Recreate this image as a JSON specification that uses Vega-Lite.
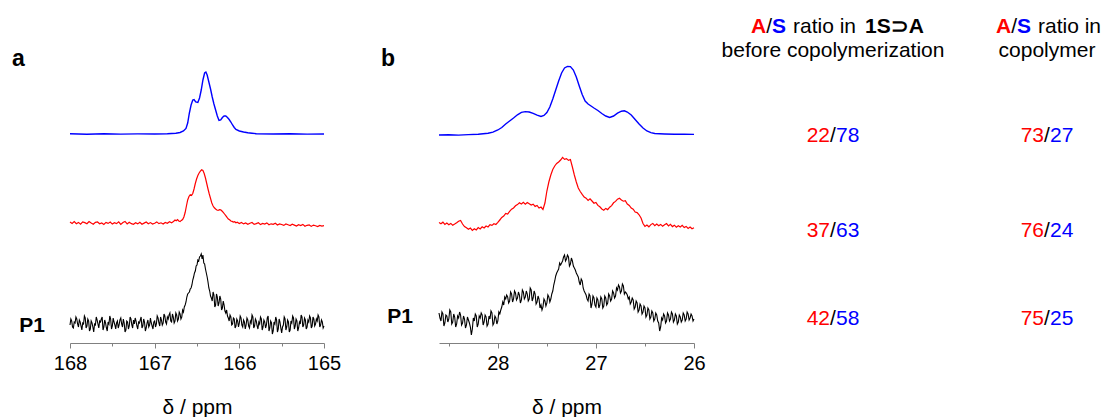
{
"$schema": "https://vega.github.io/schema/vega-lite/v6.json",
"background": "white",
"padding": {"left": 12, "top": 16, "right": 5, "bottom": 0},
"bounds": "flush",
"spacing": 115,
"config": {"view": {"stroke": null}, "font": "Liberation Sans", "text": {"font": "Liberation Sans"}},
"datasets": {
"a_S1": [{"ppm":168.00,"signal":209.2},{"ppm":167.80,"signal":208.8},{"ppm":167.60,"signal":209.3},{"ppm":167.40,"signal":208.9},{"ppm":167.20,"signal":209.1},{"ppm":167.00,"signal":209.0},{"ppm":166.85,"signal":209.3},{"ppm":166.75,"signal":209.8},{"ppm":166.70,"signal":210.5},{"ppm":166.66,"signal":212},{"ppm":166.63,"signal":214.5},{"ppm":166.61,"signal":220},{"ppm":166.59,"signal":230},{"ppm":166.57,"signal":238},{"ppm":166.55,"signal":243},{"ppm":166.535,"signal":243.5},{"ppm":166.515,"signal":241},{"ppm":166.49,"signal":240.5},{"ppm":166.47,"signal":245},{"ppm":166.45,"signal":253},{"ppm":166.43,"signal":263},{"ppm":166.41,"signal":270},{"ppm":166.395,"signal":271},{"ppm":166.38,"signal":268},{"ppm":166.36,"signal":261},{"ppm":166.34,"signal":254},{"ppm":166.32,"signal":246},{"ppm":166.30,"signal":239},{"ppm":166.28,"signal":233},{"ppm":166.26,"signal":227},{"ppm":166.24,"signal":222.5},{"ppm":166.22,"signal":223},{"ppm":166.20,"signal":225.5},{"ppm":166.18,"signal":227},{"ppm":166.16,"signal":227},{"ppm":166.14,"signal":225.5},{"ppm":166.12,"signal":223.5},{"ppm":166.10,"signal":221},{"ppm":166.08,"signal":218},{"ppm":166.06,"signal":215.5},{"ppm":166.04,"signal":213.5},{"ppm":166.00,"signal":212},{"ppm":165.95,"signal":211},{"ppm":165.90,"signal":210.3},{"ppm":165.85,"signal":209.8},{"ppm":165.80,"signal":209.3},{"ppm":165.60,"signal":209.0},{"ppm":165.40,"signal":209.2},{"ppm":165.20,"signal":208.9},{"ppm":165.00,"signal":209.0}],
"a_S2": [{"ppm":168.000,"signal":121.0},{"ppm":167.975,"signal":119.6},{"ppm":167.950,"signal":121.4},{"ppm":167.925,"signal":119.3},{"ppm":167.900,"signal":120.6},{"ppm":167.875,"signal":118.9},{"ppm":167.850,"signal":121.1},{"ppm":167.825,"signal":120.4},{"ppm":167.800,"signal":119.3},{"ppm":167.775,"signal":121.5},{"ppm":167.750,"signal":119.9},{"ppm":167.725,"signal":118.8},{"ppm":167.700,"signal":120.7},{"ppm":167.675,"signal":121.0},{"ppm":167.650,"signal":119.2},{"ppm":167.625,"signal":120.1},{"ppm":167.600,"signal":118.6},{"ppm":167.575,"signal":120.6},{"ppm":167.550,"signal":119.6},{"ppm":167.525,"signal":120.9},{"ppm":167.500,"signal":118.9},{"ppm":167.475,"signal":120.3},{"ppm":167.450,"signal":119.4},{"ppm":167.425,"signal":121.2},{"ppm":167.400,"signal":118.6},{"ppm":167.375,"signal":120.4},{"ppm":167.350,"signal":121.6},{"ppm":167.325,"signal":119.0},{"ppm":167.300,"signal":120.8},{"ppm":167.275,"signal":119.3},{"ppm":167.250,"signal":118.7},{"ppm":167.225,"signal":120.2},{"ppm":167.200,"signal":119.1},{"ppm":167.175,"signal":120.7},{"ppm":167.150,"signal":118.8},{"ppm":167.125,"signal":119.9},{"ppm":167.100,"signal":121.0},{"ppm":167.075,"signal":119.2},{"ppm":167.050,"signal":120.4},{"ppm":167.025,"signal":118.9},{"ppm":167.000,"signal":119.8},{"ppm":166.975,"signal":121.1},{"ppm":166.950,"signal":119.4},{"ppm":166.925,"signal":120.2},{"ppm":166.900,"signal":119.0},{"ppm":166.875,"signal":120.6},{"ppm":166.850,"signal":119.7},{"ppm":166.825,"signal":121.2},{"ppm":166.800,"signal":120.1},{"ppm":166.775,"signal":121.8},{"ppm":166.760,"signal":123.0},{"ppm":166.745,"signal":122.2},{"ppm":166.730,"signal":123.4},{"ppm":166.715,"signal":122.0},{"ppm":166.700,"signal":121.4},{"ppm":166.685,"signal":122.6},{"ppm":166.670,"signal":123.5},{"ppm":166.655,"signal":126.0},{"ppm":166.640,"signal":130.5},{"ppm":166.625,"signal":137.0},{"ppm":166.610,"signal":143.0},{"ppm":166.595,"signal":146.5},{"ppm":166.580,"signal":148.2},{"ppm":166.565,"signal":147.6},{"ppm":166.550,"signal":149.5},{"ppm":166.535,"signal":154.0},{"ppm":166.520,"signal":159.5},{"ppm":166.505,"signal":164.0},{"ppm":166.490,"signal":167.5},{"ppm":166.475,"signal":170.0},{"ppm":166.460,"signal":171.8},{"ppm":166.445,"signal":173.2},{"ppm":166.430,"signal":172.6},{"ppm":166.415,"signal":169.5},{"ppm":166.400,"signal":165.0},{"ppm":166.385,"signal":159.5},{"ppm":166.370,"signal":154.0},{"ppm":166.355,"signal":149.0},{"ppm":166.340,"signal":144.5},{"ppm":166.325,"signal":140.0},{"ppm":166.310,"signal":137.0},{"ppm":166.295,"signal":135.2},{"ppm":166.280,"signal":134.0},{"ppm":166.265,"signal":133.0},{"ppm":166.250,"signal":132.6},{"ppm":166.235,"signal":133.4},{"ppm":166.220,"signal":133.2},{"ppm":166.205,"signal":132.0},{"ppm":166.190,"signal":130.6},{"ppm":166.175,"signal":129.0},{"ppm":166.160,"signal":127.4},{"ppm":166.145,"signal":125.6},{"ppm":166.130,"signal":124.0},{"ppm":166.115,"signal":123.2},{"ppm":166.100,"signal":122.0},{"ppm":166.085,"signal":121.6},{"ppm":166.070,"signal":120.9},{"ppm":166.055,"signal":121.3},{"ppm":166.040,"signal":120.2},{"ppm":166.025,"signal":120.8},{"ppm":166.000,"signal":119.5},{"ppm":165.975,"signal":120.6},{"ppm":165.950,"signal":119.1},{"ppm":165.925,"signal":120.0},{"ppm":165.900,"signal":118.7},{"ppm":165.875,"signal":119.8},{"ppm":165.850,"signal":120.5},{"ppm":165.825,"signal":118.6},{"ppm":165.800,"signal":119.4},{"ppm":165.775,"signal":120.3},{"ppm":165.750,"signal":118.4},{"ppm":165.725,"signal":119.6},{"ppm":165.700,"signal":118.9},{"ppm":165.675,"signal":120.1},{"ppm":165.650,"signal":118.3},{"ppm":165.625,"signal":119.2},{"ppm":165.600,"signal":118.7},{"ppm":165.575,"signal":119.8},{"ppm":165.550,"signal":118.0},{"ppm":165.525,"signal":119.1},{"ppm":165.500,"signal":118.5},{"ppm":165.475,"signal":117.6},{"ppm":165.450,"signal":119.0},{"ppm":165.425,"signal":118.2},{"ppm":165.400,"signal":117.4},{"ppm":165.375,"signal":118.8},{"ppm":165.350,"signal":117.9},{"ppm":165.325,"signal":116.9},{"ppm":165.300,"signal":118.3},{"ppm":165.275,"signal":117.5},{"ppm":165.250,"signal":118.6},{"ppm":165.225,"signal":116.8},{"ppm":165.200,"signal":117.7},{"ppm":165.175,"signal":118.1},{"ppm":165.150,"signal":116.6},{"ppm":165.125,"signal":117.9},{"ppm":165.100,"signal":117.2},{"ppm":165.075,"signal":116.5},{"ppm":165.050,"signal":117.6},{"ppm":165.025,"signal":116.9},{"ppm":165.000,"signal":117.3}],
"a_P1": [{"ppm":168.00,"signal":18},{"ppm":167.99,"signal":24},{"ppm":167.98,"signal":22},{"ppm":167.97,"signal":16},{"ppm":167.96,"signal":15},{"ppm":167.95,"signal":21},{"ppm":167.94,"signal":20},{"ppm":167.93,"signal":26},{"ppm":167.92,"signal":24},{"ppm":167.91,"signal":19},{"ppm":167.90,"signal":16},{"ppm":167.89,"signal":23},{"ppm":167.88,"signal":21},{"ppm":167.87,"signal":17},{"ppm":167.86,"signal":13},{"ppm":167.85,"signal":20},{"ppm":167.84,"signal":19},{"ppm":167.83,"signal":27},{"ppm":167.82,"signal":25},{"ppm":167.81,"signal":15},{"ppm":167.80,"signal":17},{"ppm":167.79,"signal":24},{"ppm":167.78,"signal":22},{"ppm":167.77,"signal":12},{"ppm":167.76,"signal":14},{"ppm":167.75,"signal":22},{"ppm":167.74,"signal":20},{"ppm":167.73,"signal":16},{"ppm":167.72,"signal":11},{"ppm":167.71,"signal":19},{"ppm":167.70,"signal":18},{"ppm":167.69,"signal":26},{"ppm":167.68,"signal":23},{"ppm":167.67,"signal":19},{"ppm":167.66,"signal":15},{"ppm":167.65,"signal":22},{"ppm":167.64,"signal":21},{"ppm":167.63,"signal":24},{"ppm":167.62,"signal":26},{"ppm":167.61,"signal":13},{"ppm":167.60,"signal":16},{"ppm":167.59,"signal":23},{"ppm":167.58,"signal":20},{"ppm":167.57,"signal":15},{"ppm":167.56,"signal":12},{"ppm":167.55,"signal":21},{"ppm":167.54,"signal":19},{"ppm":167.53,"signal":27},{"ppm":167.52,"signal":24},{"ppm":167.51,"signal":14},{"ppm":167.50,"signal":17},{"ppm":167.49,"signal":25},{"ppm":167.48,"signal":21},{"ppm":167.47,"signal":18},{"ppm":167.46,"signal":14},{"ppm":167.45,"signal":20},{"ppm":167.44,"signal":22},{"ppm":167.43,"signal":15},{"ppm":167.42,"signal":18},{"ppm":167.41,"signal":23},{"ppm":167.40,"signal":25},{"ppm":167.39,"signal":19},{"ppm":167.38,"signal":16},{"ppm":167.37,"signal":24},{"ppm":167.36,"signal":20},{"ppm":167.35,"signal":11},{"ppm":167.34,"signal":13},{"ppm":167.33,"signal":22},{"ppm":167.32,"signal":21},{"ppm":167.31,"signal":14},{"ppm":167.30,"signal":17},{"ppm":167.29,"signal":26},{"ppm":167.28,"signal":24},{"ppm":167.27,"signal":18},{"ppm":167.26,"signal":15},{"ppm":167.25,"signal":23},{"ppm":167.24,"signal":19},{"ppm":167.23,"signal":25},{"ppm":167.22,"signal":22},{"ppm":167.21,"signal":17},{"ppm":167.20,"signal":14},{"ppm":167.19,"signal":21},{"ppm":167.18,"signal":20},{"ppm":167.17,"signal":23},{"ppm":167.16,"signal":26},{"ppm":167.15,"signal":15},{"ppm":167.14,"signal":17},{"ppm":167.13,"signal":24},{"ppm":167.12,"signal":21},{"ppm":167.11,"signal":12},{"ppm":167.10,"signal":15},{"ppm":167.09,"signal":20},{"ppm":167.08,"signal":23},{"ppm":167.07,"signal":16},{"ppm":167.06,"signal":18},{"ppm":167.05,"signal":25},{"ppm":167.04,"signal":20},{"ppm":167.03,"signal":17},{"ppm":167.02,"signal":14},{"ppm":167.01,"signal":21},{"ppm":167.00,"signal":22},{"ppm":166.99,"signal":16},{"ppm":166.98,"signal":19},{"ppm":166.97,"signal":27},{"ppm":166.96,"signal":25},{"ppm":166.95,"signal":20},{"ppm":166.94,"signal":17},{"ppm":166.93,"signal":26},{"ppm":166.92,"signal":23},{"ppm":166.91,"signal":18},{"ppm":166.90,"signal":20},{"ppm":166.89,"signal":29},{"ppm":166.88,"signal":27},{"ppm":166.87,"signal":21},{"ppm":166.86,"signal":19},{"ppm":166.85,"signal":26},{"ppm":166.84,"signal":24},{"ppm":166.83,"signal":28},{"ppm":166.82,"signal":30},{"ppm":166.81,"signal":22},{"ppm":166.80,"signal":21},{"ppm":166.79,"signal":29},{"ppm":166.78,"signal":26},{"ppm":166.77,"signal":20},{"ppm":166.76,"signal":22},{"ppm":166.75,"signal":30},{"ppm":166.74,"signal":28},{"ppm":166.73,"signal":22},{"ppm":166.72,"signal":24},{"ppm":166.71,"signal":31},{"ppm":166.70,"signal":29},{"ppm":166.69,"signal":24},{"ppm":166.68,"signal":26},{"ppm":166.67,"signal":33},{"ppm":166.66,"signal":31},{"ppm":166.65,"signal":36},{"ppm":166.64,"signal":38},{"ppm":166.63,"signal":41},{"ppm":166.62,"signal":46},{"ppm":166.61,"signal":49},{"ppm":166.60,"signal":50},{"ppm":166.59,"signal":51},{"ppm":166.58,"signal":54},{"ppm":166.57,"signal":55},{"ppm":166.56,"signal":58},{"ppm":166.55,"signal":63},{"ppm":166.54,"signal":66},{"ppm":166.53,"signal":70},{"ppm":166.52,"signal":72},{"ppm":166.51,"signal":77},{"ppm":166.50,"signal":78},{"ppm":166.49,"signal":83},{"ppm":166.48,"signal":82},{"ppm":166.47,"signal":86},{"ppm":166.46,"signal":87},{"ppm":166.45,"signal":89},{"ppm":166.44,"signal":84},{"ppm":166.43,"signal":88},{"ppm":166.42,"signal":80},{"ppm":166.41,"signal":79},{"ppm":166.40,"signal":74},{"ppm":166.39,"signal":70},{"ppm":166.38,"signal":66},{"ppm":166.37,"signal":61},{"ppm":166.36,"signal":55},{"ppm":166.35,"signal":52},{"ppm":166.34,"signal":47},{"ppm":166.33,"signal":45},{"ppm":166.32,"signal":42},{"ppm":166.31,"signal":51},{"ppm":166.30,"signal":48},{"ppm":166.29,"signal":36},{"ppm":166.28,"signal":38},{"ppm":166.27,"signal":49},{"ppm":166.26,"signal":46},{"ppm":166.25,"signal":37},{"ppm":166.24,"signal":40},{"ppm":166.23,"signal":47},{"ppm":166.22,"signal":44},{"ppm":166.21,"signal":33},{"ppm":166.20,"signal":35},{"ppm":166.19,"signal":42},{"ppm":166.18,"signal":38},{"ppm":166.17,"signal":32},{"ppm":166.16,"signal":30},{"ppm":166.15,"signal":33},{"ppm":166.14,"signal":27},{"ppm":166.13,"signal":25},{"ppm":166.12,"signal":22},{"ppm":166.11,"signal":28},{"ppm":166.10,"signal":26},{"ppm":166.09,"signal":18},{"ppm":166.08,"signal":19},{"ppm":166.07,"signal":25},{"ppm":166.06,"signal":24},{"ppm":166.05,"signal":15},{"ppm":166.04,"signal":17},{"ppm":166.03,"signal":24},{"ppm":166.02,"signal":22},{"ppm":166.01,"signal":16},{"ppm":166.00,"signal":20},{"ppm":165.99,"signal":27},{"ppm":165.98,"signal":25},{"ppm":165.97,"signal":18},{"ppm":165.96,"signal":16},{"ppm":165.95,"signal":23},{"ppm":165.94,"signal":21},{"ppm":165.93,"signal":14},{"ppm":165.92,"signal":18},{"ppm":165.91,"signal":25},{"ppm":165.90,"signal":23},{"ppm":165.89,"signal":17},{"ppm":165.88,"signal":15},{"ppm":165.87,"signal":22},{"ppm":165.86,"signal":20},{"ppm":165.85,"signal":28},{"ppm":165.84,"signal":26},{"ppm":165.83,"signal":15},{"ppm":165.82,"signal":17},{"ppm":165.81,"signal":24},{"ppm":165.80,"signal":22},{"ppm":165.79,"signal":17},{"ppm":165.78,"signal":14},{"ppm":165.77,"signal":21},{"ppm":165.76,"signal":19},{"ppm":165.75,"signal":26},{"ppm":165.74,"signal":24},{"ppm":165.73,"signal":13},{"ppm":165.72,"signal":16},{"ppm":165.71,"signal":23},{"ppm":165.70,"signal":21},{"ppm":165.69,"signal":15},{"ppm":165.68,"signal":18},{"ppm":165.67,"signal":25},{"ppm":165.66,"signal":27},{"ppm":165.65,"signal":12},{"ppm":165.64,"signal":15},{"ppm":165.63,"signal":22},{"ppm":165.62,"signal":20},{"ppm":165.61,"signal":9},{"ppm":165.60,"signal":12},{"ppm":165.59,"signal":21},{"ppm":165.58,"signal":19},{"ppm":165.57,"signal":26},{"ppm":165.56,"signal":23},{"ppm":165.55,"signal":11},{"ppm":165.54,"signal":14},{"ppm":165.53,"signal":24},{"ppm":165.52,"signal":21},{"ppm":165.51,"signal":15},{"ppm":165.50,"signal":10},{"ppm":165.49,"signal":16},{"ppm":165.48,"signal":18},{"ppm":165.47,"signal":26},{"ppm":165.46,"signal":24},{"ppm":165.45,"signal":13},{"ppm":165.44,"signal":16},{"ppm":165.43,"signal":23},{"ppm":165.42,"signal":21},{"ppm":165.41,"signal":11},{"ppm":165.40,"signal":13},{"ppm":165.39,"signal":22},{"ppm":165.38,"signal":20},{"ppm":165.37,"signal":27},{"ppm":165.36,"signal":25},{"ppm":165.35,"signal":14},{"ppm":165.34,"signal":17},{"ppm":165.33,"signal":24},{"ppm":165.32,"signal":22},{"ppm":165.31,"signal":12},{"ppm":165.30,"signal":15},{"ppm":165.29,"signal":21},{"ppm":165.28,"signal":19},{"ppm":165.27,"signal":28},{"ppm":165.26,"signal":26},{"ppm":165.25,"signal":16},{"ppm":165.24,"signal":18},{"ppm":165.23,"signal":25},{"ppm":165.22,"signal":23},{"ppm":165.21,"signal":14},{"ppm":165.20,"signal":16},{"ppm":165.19,"signal":23},{"ppm":165.18,"signal":21},{"ppm":165.17,"signal":27},{"ppm":165.16,"signal":25},{"ppm":165.15,"signal":15},{"ppm":165.14,"signal":17},{"ppm":165.13,"signal":26},{"ppm":165.12,"signal":24},{"ppm":165.11,"signal":17},{"ppm":165.10,"signal":19},{"ppm":165.09,"signal":24},{"ppm":165.08,"signal":22},{"ppm":165.07,"signal":28},{"ppm":165.06,"signal":26},{"ppm":165.05,"signal":16},{"ppm":165.04,"signal":18},{"ppm":165.03,"signal":23},{"ppm":165.02,"signal":21},{"ppm":165.01,"signal":15},{"ppm":165.00,"signal":17}],
"b_S1": [{"ppm":28.60,"signal":208.0},{"ppm":28.50,"signal":208.3},{"ppm":28.40,"signal":207.9},{"ppm":28.30,"signal":208.4},{"ppm":28.20,"signal":208.8},{"ppm":28.10,"signal":209.7},{"ppm":28.05,"signal":210.8},{"ppm":28.00,"signal":213.0},{"ppm":27.96,"signal":215.5},{"ppm":27.92,"signal":219.0},{"ppm":27.88,"signal":222.0},{"ppm":27.84,"signal":225.0},{"ppm":27.80,"signal":228.2},{"ppm":27.76,"signal":230.6},{"ppm":27.72,"signal":231.4},{"ppm":27.68,"signal":231.0},{"ppm":27.64,"signal":229.6},{"ppm":27.60,"signal":227.8},{"ppm":27.56,"signal":226.6},{"ppm":27.53,"signal":227.5},{"ppm":27.50,"signal":230.5},{"ppm":27.47,"signal":236.0},{"ppm":27.44,"signal":244.0},{"ppm":27.41,"signal":253.0},{"ppm":27.38,"signal":262.0},{"ppm":27.35,"signal":270.0},{"ppm":27.32,"signal":275.0},{"ppm":27.29,"signal":276.6},{"ppm":27.26,"signal":276.4},{"ppm":27.23,"signal":273.0},{"ppm":27.20,"signal":266.0},{"ppm":27.17,"signal":257.0},{"ppm":27.14,"signal":248.5},{"ppm":27.11,"signal":242.0},{"ppm":27.08,"signal":239.0},{"ppm":27.05,"signal":237.0},{"ppm":27.02,"signal":235.0},{"ppm":26.98,"signal":232.5},{"ppm":26.94,"signal":229.5},{"ppm":26.90,"signal":227.0},{"ppm":26.86,"signal":225.6},{"ppm":26.82,"signal":227.0},{"ppm":26.78,"signal":229.8},{"ppm":26.74,"signal":231.8},{"ppm":26.71,"signal":232.2},{"ppm":26.68,"signal":231.0},{"ppm":26.64,"signal":228.0},{"ppm":26.60,"signal":223.5},{"ppm":26.56,"signal":219.0},{"ppm":26.52,"signal":215.0},{"ppm":26.48,"signal":212.0},{"ppm":26.44,"signal":210.3},{"ppm":26.40,"signal":209.5},{"ppm":26.30,"signal":209.0},{"ppm":26.20,"signal":208.7},{"ppm":26.10,"signal":208.9},{"ppm":26.00,"signal":208.6}],
"b_S2": [{"ppm":28.60,"signal":120.5},{"ppm":28.58,"signal":119.2},{"ppm":28.56,"signal":120.8},{"ppm":28.54,"signal":118.6},{"ppm":28.52,"signal":119.9},{"ppm":28.50,"signal":118.3},{"ppm":28.48,"signal":119.6},{"ppm":28.46,"signal":117.8},{"ppm":28.44,"signal":118.9},{"ppm":28.42,"signal":120.2},{"ppm":28.40,"signal":121.8},{"ppm":28.38,"signal":122.6},{"ppm":28.36,"signal":119.0},{"ppm":28.34,"signal":116.5},{"ppm":28.32,"signal":115.2},{"ppm":28.30,"signal":113.8},{"ppm":28.28,"signal":115.0},{"ppm":28.26,"signal":112.6},{"ppm":28.24,"signal":114.3},{"ppm":28.22,"signal":113.0},{"ppm":28.20,"signal":115.4},{"ppm":28.18,"signal":114.1},{"ppm":28.16,"signal":116.2},{"ppm":28.14,"signal":115.0},{"ppm":28.12,"signal":117.0},{"ppm":28.10,"signal":116.0},{"ppm":28.08,"signal":118.4},{"ppm":28.06,"signal":117.6},{"ppm":28.04,"signal":119.2},{"ppm":28.02,"signal":118.5},{"ppm":28.00,"signal":120.6},{"ppm":27.98,"signal":123.0},{"ppm":27.96,"signal":125.5},{"ppm":27.94,"signal":127.0},{"ppm":27.92,"signal":129.6},{"ppm":27.90,"signal":129.0},{"ppm":27.88,"signal":131.6},{"ppm":27.86,"signal":133.8},{"ppm":27.84,"signal":135.0},{"ppm":27.82,"signal":137.2},{"ppm":27.80,"signal":138.4},{"ppm":27.78,"signal":140.2},{"ppm":27.76,"signal":139.0},{"ppm":27.74,"signal":140.6},{"ppm":27.72,"signal":138.8},{"ppm":27.70,"signal":140.4},{"ppm":27.68,"signal":139.2},{"ppm":27.66,"signal":138.0},{"ppm":27.64,"signal":138.8},{"ppm":27.62,"signal":136.6},{"ppm":27.60,"signal":137.6},{"ppm":27.58,"signal":135.0},{"ppm":27.56,"signal":136.0},{"ppm":27.54,"signal":133.6},{"ppm":27.52,"signal":140.0},{"ppm":27.50,"signal":152.0},{"ppm":27.48,"signal":161.0},{"ppm":27.46,"signal":168.0},{"ppm":27.44,"signal":173.5},{"ppm":27.42,"signal":177.0},{"ppm":27.40,"signal":179.5},{"ppm":27.38,"signal":181.0},{"ppm":27.36,"signal":183.0},{"ppm":27.34,"signal":185.6},{"ppm":27.32,"signal":183.6},{"ppm":27.30,"signal":184.4},{"ppm":27.28,"signal":182.6},{"ppm":27.26,"signal":183.5},{"ppm":27.24,"signal":176.0},{"ppm":27.22,"signal":168.0},{"ppm":27.20,"signal":161.0},{"ppm":27.18,"signal":155.0},{"ppm":27.16,"signal":151.5},{"ppm":27.14,"signal":148.6},{"ppm":27.12,"signal":146.0},{"ppm":27.10,"signal":144.8},{"ppm":27.08,"signal":142.6},{"ppm":27.06,"signal":144.2},{"ppm":27.04,"signal":142.0},{"ppm":27.02,"signal":139.8},{"ppm":27.00,"signal":140.6},{"ppm":26.98,"signal":137.6},{"ppm":26.96,"signal":136.2},{"ppm":26.94,"signal":134.0},{"ppm":26.92,"signal":132.8},{"ppm":26.90,"signal":134.6},{"ppm":26.88,"signal":133.4},{"ppm":26.86,"signal":135.8},{"ppm":26.84,"signal":137.4},{"ppm":26.82,"signal":140.2},{"ppm":26.80,"signal":141.6},{"ppm":26.78,"signal":143.8},{"ppm":26.76,"signal":144.8},{"ppm":26.74,"signal":143.0},{"ppm":26.72,"signal":141.8},{"ppm":26.70,"signal":142.4},{"ppm":26.68,"signal":139.0},{"ppm":26.66,"signal":137.6},{"ppm":26.64,"signal":135.0},{"ppm":26.62,"signal":133.8},{"ppm":26.60,"signal":131.0},{"ppm":26.58,"signal":130.4},{"ppm":26.56,"signal":128.2},{"ppm":26.54,"signal":125.0},{"ppm":26.52,"signal":119.5},{"ppm":26.50,"signal":116.6},{"ppm":26.48,"signal":118.0},{"ppm":26.46,"signal":116.2},{"ppm":26.44,"signal":118.4},{"ppm":26.42,"signal":119.6},{"ppm":26.40,"signal":117.4},{"ppm":26.38,"signal":119.0},{"ppm":26.36,"signal":117.2},{"ppm":26.34,"signal":118.6},{"ppm":26.32,"signal":116.8},{"ppm":26.30,"signal":118.2},{"ppm":26.28,"signal":119.4},{"ppm":26.26,"signal":117.0},{"ppm":26.24,"signal":118.6},{"ppm":26.22,"signal":116.4},{"ppm":26.20,"signal":117.8},{"ppm":26.18,"signal":115.8},{"ppm":26.16,"signal":117.2},{"ppm":26.14,"signal":116.0},{"ppm":26.12,"signal":117.6},{"ppm":26.10,"signal":115.4},{"ppm":26.08,"signal":116.6},{"ppm":26.06,"signal":114.6},{"ppm":26.04,"signal":116.0},{"ppm":26.02,"signal":114.2},{"ppm":26.00,"signal":115.2}],
"b_P1": [{"ppm":28.60,"signal":30},{"ppm":28.59,"signal":25},{"ppm":28.58,"signal":22},{"ppm":28.57,"signal":31},{"ppm":28.56,"signal":29},{"ppm":28.55,"signal":17},{"ppm":28.54,"signal":20},{"ppm":28.53,"signal":28},{"ppm":28.52,"signal":27},{"ppm":28.51,"signal":21},{"ppm":28.50,"signal":24},{"ppm":28.49,"signal":33},{"ppm":28.48,"signal":31},{"ppm":28.47,"signal":19},{"ppm":28.46,"signal":21},{"ppm":28.45,"signal":29},{"ppm":28.44,"signal":26},{"ppm":28.43,"signal":16},{"ppm":28.42,"signal":19},{"ppm":28.41,"signal":27},{"ppm":28.40,"signal":25},{"ppm":28.39,"signal":31},{"ppm":28.38,"signal":28},{"ppm":28.37,"signal":18},{"ppm":28.36,"signal":20},{"ppm":28.35,"signal":27},{"ppm":28.34,"signal":24},{"ppm":28.33,"signal":15},{"ppm":28.32,"signal":18},{"ppm":28.31,"signal":26},{"ppm":28.30,"signal":23},{"ppm":28.29,"signal":20},{"ppm":28.28,"signal":16},{"ppm":28.27,"signal":8},{"ppm":28.26,"signal":14},{"ppm":28.25,"signal":25},{"ppm":28.24,"signal":22},{"ppm":28.23,"signal":29},{"ppm":28.22,"signal":27},{"ppm":28.21,"signal":16},{"ppm":28.20,"signal":19},{"ppm":28.19,"signal":27},{"ppm":28.18,"signal":25},{"ppm":28.17,"signal":30},{"ppm":28.16,"signal":28},{"ppm":28.15,"signal":18},{"ppm":28.14,"signal":21},{"ppm":28.13,"signal":28},{"ppm":28.12,"signal":26},{"ppm":28.11,"signal":17},{"ppm":28.10,"signal":19},{"ppm":28.09,"signal":27},{"ppm":28.08,"signal":24},{"ppm":28.07,"signal":32},{"ppm":28.06,"signal":30},{"ppm":28.05,"signal":18},{"ppm":28.04,"signal":20},{"ppm":28.03,"signal":27},{"ppm":28.02,"signal":25},{"ppm":28.01,"signal":19},{"ppm":28.00,"signal":22},{"ppm":27.99,"signal":31},{"ppm":27.98,"signal":29},{"ppm":27.97,"signal":33},{"ppm":27.96,"signal":36},{"ppm":27.95,"signal":41},{"ppm":27.94,"signal":38},{"ppm":27.93,"signal":46},{"ppm":27.92,"signal":44},{"ppm":27.91,"signal":48},{"ppm":27.90,"signal":46},{"ppm":27.89,"signal":40},{"ppm":27.88,"signal":42},{"ppm":27.87,"signal":51},{"ppm":27.86,"signal":49},{"ppm":27.85,"signal":41},{"ppm":27.84,"signal":44},{"ppm":27.83,"signal":52},{"ppm":27.82,"signal":50},{"ppm":27.81,"signal":43},{"ppm":27.80,"signal":45},{"ppm":27.79,"signal":51},{"ppm":27.78,"signal":48},{"ppm":27.77,"signal":40},{"ppm":27.76,"signal":43},{"ppm":27.75,"signal":53},{"ppm":27.74,"signal":51},{"ppm":27.73,"signal":44},{"ppm":27.72,"signal":46},{"ppm":27.71,"signal":52},{"ppm":27.70,"signal":49},{"ppm":27.69,"signal":42},{"ppm":27.68,"signal":44},{"ppm":27.67,"signal":55},{"ppm":27.66,"signal":53},{"ppm":27.65,"signal":42},{"ppm":27.64,"signal":45},{"ppm":27.63,"signal":52},{"ppm":27.62,"signal":49},{"ppm":27.61,"signal":39},{"ppm":27.60,"signal":41},{"ppm":27.59,"signal":47},{"ppm":27.58,"signal":44},{"ppm":27.57,"signal":35},{"ppm":27.56,"signal":38},{"ppm":27.55,"signal":33},{"ppm":27.54,"signal":36},{"ppm":27.53,"signal":44},{"ppm":27.52,"signal":42},{"ppm":27.51,"signal":37},{"ppm":27.50,"signal":40},{"ppm":27.49,"signal":48},{"ppm":27.48,"signal":46},{"ppm":27.47,"signal":41},{"ppm":27.46,"signal":44},{"ppm":27.45,"signal":49},{"ppm":27.44,"signal":52},{"ppm":27.43,"signal":58},{"ppm":27.42,"signal":62},{"ppm":27.41,"signal":67},{"ppm":27.40,"signal":70},{"ppm":27.39,"signal":72},{"ppm":27.38,"signal":74},{"ppm":27.37,"signal":80},{"ppm":27.36,"signal":78},{"ppm":27.35,"signal":80},{"ppm":27.34,"signal":82},{"ppm":27.33,"signal":86},{"ppm":27.32,"signal":88},{"ppm":27.31,"signal":82},{"ppm":27.30,"signal":84},{"ppm":27.29,"signal":88},{"ppm":27.28,"signal":86},{"ppm":27.27,"signal":77},{"ppm":27.26,"signal":79},{"ppm":27.25,"signal":85},{"ppm":27.24,"signal":82},{"ppm":27.23,"signal":77},{"ppm":27.22,"signal":75},{"ppm":27.21,"signal":73},{"ppm":27.20,"signal":70},{"ppm":27.19,"signal":68},{"ppm":27.18,"signal":66},{"ppm":27.17,"signal":61},{"ppm":27.16,"signal":58},{"ppm":27.15,"signal":64},{"ppm":27.14,"signal":62},{"ppm":27.13,"signal":55},{"ppm":27.12,"signal":52},{"ppm":27.11,"signal":50},{"ppm":27.10,"signal":48},{"ppm":27.09,"signal":44},{"ppm":27.08,"signal":42},{"ppm":27.07,"signal":49},{"ppm":27.06,"signal":47},{"ppm":27.05,"signal":35},{"ppm":27.04,"signal":39},{"ppm":27.03,"signal":47},{"ppm":27.02,"signal":45},{"ppm":27.01,"signal":38},{"ppm":27.00,"signal":36},{"ppm":26.99,"signal":45},{"ppm":26.98,"signal":43},{"ppm":26.97,"signal":35},{"ppm":26.96,"signal":38},{"ppm":26.95,"signal":46},{"ppm":26.94,"signal":44},{"ppm":26.93,"signal":35},{"ppm":26.92,"signal":37},{"ppm":26.91,"signal":47},{"ppm":26.90,"signal":45},{"ppm":26.89,"signal":38},{"ppm":26.88,"signal":40},{"ppm":26.87,"signal":49},{"ppm":26.86,"signal":47},{"ppm":26.85,"signal":42},{"ppm":26.84,"signal":44},{"ppm":26.83,"signal":52},{"ppm":26.82,"signal":50},{"ppm":26.81,"signal":45},{"ppm":26.80,"signal":47},{"ppm":26.79,"signal":55},{"ppm":26.78,"signal":53},{"ppm":26.77,"signal":58},{"ppm":26.76,"signal":56},{"ppm":26.75,"signal":50},{"ppm":26.74,"signal":52},{"ppm":26.73,"signal":59},{"ppm":26.72,"signal":57},{"ppm":26.71,"signal":49},{"ppm":26.70,"signal":51},{"ppm":26.69,"signal":50},{"ppm":26.68,"signal":48},{"ppm":26.67,"signal":44},{"ppm":26.66,"signal":46},{"ppm":26.65,"signal":39},{"ppm":26.64,"signal":41},{"ppm":26.63,"signal":45},{"ppm":26.62,"signal":43},{"ppm":26.61,"signal":34},{"ppm":26.60,"signal":36},{"ppm":26.59,"signal":42},{"ppm":26.58,"signal":40},{"ppm":26.57,"signal":31},{"ppm":26.56,"signal":33},{"ppm":26.55,"signal":39},{"ppm":26.54,"signal":37},{"ppm":26.53,"signal":29},{"ppm":26.52,"signal":31},{"ppm":26.51,"signal":37},{"ppm":26.50,"signal":35},{"ppm":26.49,"signal":26},{"ppm":26.48,"signal":28},{"ppm":26.47,"signal":35},{"ppm":26.46,"signal":33},{"ppm":26.45,"signal":24},{"ppm":26.44,"signal":26},{"ppm":26.43,"signal":32},{"ppm":26.42,"signal":30},{"ppm":26.41,"signal":22},{"ppm":26.40,"signal":24},{"ppm":26.39,"signal":30},{"ppm":26.38,"signal":28},{"ppm":26.37,"signal":22},{"ppm":26.36,"signal":20},{"ppm":26.35,"signal":12},{"ppm":26.34,"signal":16},{"ppm":26.33,"signal":25},{"ppm":26.32,"signal":23},{"ppm":26.31,"signal":29},{"ppm":26.30,"signal":27},{"ppm":26.29,"signal":20},{"ppm":26.28,"signal":22},{"ppm":26.27,"signal":30},{"ppm":26.26,"signal":28},{"ppm":26.25,"signal":22},{"ppm":26.24,"signal":24},{"ppm":26.23,"signal":31},{"ppm":26.22,"signal":29},{"ppm":26.21,"signal":21},{"ppm":26.20,"signal":23},{"ppm":26.19,"signal":29},{"ppm":26.18,"signal":27},{"ppm":26.17,"signal":19},{"ppm":26.16,"signal":21},{"ppm":26.15,"signal":28},{"ppm":26.14,"signal":26},{"ppm":26.13,"signal":21},{"ppm":26.12,"signal":23},{"ppm":26.11,"signal":30},{"ppm":26.10,"signal":28},{"ppm":26.09,"signal":22},{"ppm":26.08,"signal":24},{"ppm":26.07,"signal":31},{"ppm":26.06,"signal":29},{"ppm":26.05,"signal":23},{"ppm":26.04,"signal":25},{"ppm":26.03,"signal":29},{"ppm":26.02,"signal":27},{"ppm":26.01,"signal":22},{"ppm":26.00,"signal":24}],
"ratios": [{"col":"before","sample":"S1","A":22,"S":78},{"col":"before","sample":"S2","A":37,"S":63},{"col":"before","sample":"P1","A":42,"S":58},{"col":"copolymer","sample":"S1","A":73,"S":27},{"col":"copolymer","sample":"S2","A":76,"S":24},{"col":"copolymer","sample":"P1","A":75,"S":25}]
},
"hconcat": [
{
"width": 254, "height": 300,
"layer": [
{"data": {"name": "a_S1"}, "mark": {"type": "line", "color": "#0000ff", "strokeWidth": 1.4},
 "encoding": {
  "x": {"field": "ppm", "type": "quantitative", "scale": {"domain": [165, 168], "reverse": true, "nice": false, "zero": false},
   "axis": {"values": [165, 165.5, 166, 166.5, 167, 167.5, 168], "labelExpr": "datum.value % 1 === 0 ? format(datum.value, 'd') : ''", "tickSize": {"condition": {"test": "datum.value % 1 !== 0", "value": 3}, "value": 5}, "grid": false, "domainColor": "#808080", "tickColor": "#808080", "labelColor": "#000000", "labelFont": "Liberation Sans", "labelFontSize": 20, "labelPadding": 5, "labelFlush": false, "labelOverlap": false, "title": "δ / ppm", "titleFont": "Liberation Sans", "titleFontSize": 21, "titleFontWeight": "normal", "titleColor": "#000000", "titlePadding": 23}},
  "y": {"field": "signal", "type": "quantitative", "scale": {"domain": [0, 300], "nice": false, "zero": false}, "axis": null}}},
{"data": {"name": "a_S2"}, "mark": {"type": "line", "color": "#ff0000", "strokeWidth": 1.2},
 "encoding": {"x": {"field": "ppm", "type": "quantitative"}, "y": {"field": "signal", "type": "quantitative", "axis": null}}},
{"data": {"name": "a_P1"}, "mark": {"type": "line", "color": "#000000", "strokeWidth": 1.1},
 "encoding": {"x": {"field": "ppm", "type": "quantitative"}, "y": {"field": "signal", "type": "quantitative", "axis": null}}},
{"data": {"values": [{"label": "a"}]}, "mark": {"type": "text", "fontWeight": "bold", "fontSize": 23, "align": "left", "baseline": "alphabetic", "dx": -58, "color": "#000000"},
 "encoding": {"x": {"datum": 168, "type": "quantitative"}, "y": {"datum": 277, "type": "quantitative", "axis": null}, "text": {"field": "label"}}},
{"data": {"values": [{"label": "P1"}]}, "mark": {"type": "text", "fontWeight": "bold", "fontSize": 21, "align": "right", "baseline": "alphabetic", "dx": -25, "color": "#000000"},
 "encoding": {"x": {"datum": 168, "type": "quantitative"}, "y": {"datum": 11.5, "type": "quantitative", "axis": null}, "text": {"field": "label"}}}
]
},
{
"width": 255, "height": 300,
"layer": [
{"data": {"name": "b_S1"}, "mark": {"type": "line", "color": "#0000ff", "strokeWidth": 1.4},
 "encoding": {
  "x": {"field": "ppm", "type": "quantitative", "scale": {"domain": [26, 28.6], "reverse": true, "nice": false, "zero": false},
   "axis": {"values": [26, 26.5, 27, 27.5, 28, 28.5], "labelExpr": "datum.value % 1 === 0 ? format(datum.value, 'd') : ''", "tickSize": {"condition": {"test": "datum.value % 1 !== 0", "value": 3}, "value": 5}, "grid": false, "domainColor": "#808080", "tickColor": "#808080", "labelColor": "#000000", "labelFont": "Liberation Sans", "labelFontSize": 20, "labelPadding": 5, "labelFlush": false, "labelOverlap": false, "title": "δ / ppm", "titleFont": "Liberation Sans", "titleFontSize": 21, "titleFontWeight": "normal", "titleColor": "#000000", "titlePadding": 23}},
  "y": {"field": "signal", "type": "quantitative", "scale": {"domain": [0, 300], "nice": false, "zero": false}, "axis": null}}},
{"data": {"name": "b_S2"}, "mark": {"type": "line", "color": "#ff0000", "strokeWidth": 1.2},
 "encoding": {"x": {"field": "ppm", "type": "quantitative"}, "y": {"field": "signal", "type": "quantitative", "axis": null}}},
{"data": {"name": "b_P1"}, "mark": {"type": "line", "color": "#000000", "strokeWidth": 1.1},
 "encoding": {"x": {"field": "ppm", "type": "quantitative"}, "y": {"field": "signal", "type": "quantitative", "axis": null}}},
{"data": {"values": [{"label": "b"}]}, "mark": {"type": "text", "fontWeight": "bold", "fontSize": 23, "align": "left", "baseline": "alphabetic", "dx": -58, "color": "#000000"},
 "encoding": {"x": {"datum": 28.6, "type": "quantitative"}, "y": {"datum": 277, "type": "quantitative", "axis": null}, "text": {"field": "label"}}},
{"data": {"values": [{"label": "P1"}]}, "mark": {"type": "text", "fontWeight": "bold", "fontSize": 21, "align": "right", "baseline": "alphabetic", "dx": -26, "color": "#000000"},
 "encoding": {"x": {"datum": 28.6, "type": "quantitative"}, "y": {"datum": 19.7, "type": "quantitative", "axis": null}, "text": {"field": "label"}}}
]
},
{
"width": 262, "height": 300,
"encoding": {"x": {"field": "col", "type": "nominal", "scale": {"type": "point", "padding": 0.1121, "domain": ["before", "copolymer"]}, "axis": null}},
"layer": [
{"data": {"name": "ratios"}, "transform": [{"filter": "datum.sample === 'S1'"}],
 "encoding": {"y": {"datum": 201.3, "type": "quantitative", "scale": {"domain": [0, 300], "nice": false, "zero": false}, "axis": null}},
 "layer": [
  {"mark": {"type": "text", "align": "right", "dx": -3, "fontSize": 21, "color": "#ff0000", "baseline": "alphabetic"}, "encoding": {"text": {"field": "A"}}},
  {"mark": {"type": "text", "align": "center", "fontSize": 21, "color": "#000000", "baseline": "alphabetic", "text": "/"}},
  {"mark": {"type": "text", "align": "left", "dx": 3, "fontSize": 21, "color": "#0000ff", "baseline": "alphabetic"}, "encoding": {"text": {"field": "S"}}}
 ]},
{"data": {"name": "ratios"}, "transform": [{"filter": "datum.sample === 'S2'"}],
 "encoding": {"y": {"datum": 106.3, "type": "quantitative", "axis": null}},
 "layer": [
  {"mark": {"type": "text", "align": "right", "dx": -3, "fontSize": 21, "color": "#ff0000", "baseline": "alphabetic"}, "encoding": {"text": {"field": "A"}}},
  {"mark": {"type": "text", "align": "center", "fontSize": 21, "color": "#000000", "baseline": "alphabetic", "text": "/"}},
  {"mark": {"type": "text", "align": "left", "dx": 3, "fontSize": 21, "color": "#0000ff", "baseline": "alphabetic"}, "encoding": {"text": {"field": "S"}}}
 ]},
{"data": {"name": "ratios"}, "transform": [{"filter": "datum.sample === 'P1'"}],
 "encoding": {"y": {"datum": 18, "type": "quantitative", "axis": null}},
 "layer": [
  {"mark": {"type": "text", "align": "right", "dx": -3, "fontSize": 21, "color": "#ff0000", "baseline": "alphabetic"}, "encoding": {"text": {"field": "A"}}},
  {"mark": {"type": "text", "align": "center", "fontSize": 21, "color": "#000000", "baseline": "alphabetic", "text": "/"}},
  {"mark": {"type": "text", "align": "left", "dx": 3, "fontSize": 21, "color": "#0000ff", "baseline": "alphabetic"}, "encoding": {"text": {"field": "S"}}}
 ]},
{"data": {"values": [{"col": "before", "t": "before copolymerization"}, {"col": "copolymer", "t": "copolymer"}]},
 "mark": {"type": "text", "align": "center", "fontSize": 21, "color": "#000000", "baseline": "alphabetic"},
 "encoding": {"y": {"datum": 286.3, "type": "quantitative", "axis": null}, "text": {"field": "t"}}},
{"data": {"values": [{"col": "before", "t": "A"}]},
 "mark": {"type": "text", "align": "left", "dx": -82, "fontSize": 21, "fontWeight": "bold", "color": "#ff0000", "baseline": "alphabetic"},
 "encoding": {"y": {"datum": 309.7, "type": "quantitative", "axis": null}, "text": {"field": "t"}}},
{"data": {"values": [{"col": "before", "t": "/"}]},
 "mark": {"type": "text", "align": "left", "dx": -66.8, "fontSize": 21, "color": "#000000", "baseline": "alphabetic"},
 "encoding": {"y": {"datum": 309.7, "type": "quantitative", "axis": null}, "text": {"field": "t"}}},
{"data": {"values": [{"col": "before", "t": "S"}]},
 "mark": {"type": "text", "align": "left", "dx": -61, "fontSize": 21, "fontWeight": "bold", "color": "#0000ff", "baseline": "alphabetic"},
 "encoding": {"y": {"datum": 309.7, "type": "quantitative", "axis": null}, "text": {"field": "t"}}},
{"data": {"values": [{"col": "before", "t": "ratio in"}]},
 "mark": {"type": "text", "align": "left", "dx": -40, "fontSize": 21, "color": "#000000", "baseline": "alphabetic"},
 "encoding": {"y": {"datum": 309.7, "type": "quantitative", "axis": null}, "text": {"field": "t"}}},
{"data": {"values": [{"col": "before", "t": "1S⊃A"}]},
 "mark": {"type": "text", "align": "left", "dx": 32, "fontSize": 21, "fontWeight": "bold", "color": "#000000", "baseline": "alphabetic"},
 "encoding": {"y": {"datum": 309.7, "type": "quantitative", "axis": null}, "text": {"field": "t"}}},
{"data": {"values": [{"col": "copolymer", "t": "A"}]},
 "mark": {"type": "text", "align": "left", "dx": -51, "fontSize": 21, "fontWeight": "bold", "color": "#ff0000", "baseline": "alphabetic"},
 "encoding": {"y": {"datum": 309.7, "type": "quantitative", "axis": null}, "text": {"field": "t"}}},
{"data": {"values": [{"col": "copolymer", "t": "/"}]},
 "mark": {"type": "text", "align": "left", "dx": -35.8, "fontSize": 21, "color": "#000000", "baseline": "alphabetic"},
 "encoding": {"y": {"datum": 309.7, "type": "quantitative", "axis": null}, "text": {"field": "t"}}},
{"data": {"values": [{"col": "copolymer", "t": "S"}]},
 "mark": {"type": "text", "align": "left", "dx": -30, "fontSize": 21, "fontWeight": "bold", "color": "#0000ff", "baseline": "alphabetic"},
 "encoding": {"y": {"datum": 309.7, "type": "quantitative", "axis": null}, "text": {"field": "t"}}},
{"data": {"values": [{"col": "copolymer", "t": "ratio in"}]},
 "mark": {"type": "text", "align": "left", "dx": -9, "fontSize": 21, "color": "#000000", "baseline": "alphabetic"},
 "encoding": {"y": {"datum": 309.7, "type": "quantitative", "axis": null}, "text": {"field": "t"}}}
]
}
]
}
